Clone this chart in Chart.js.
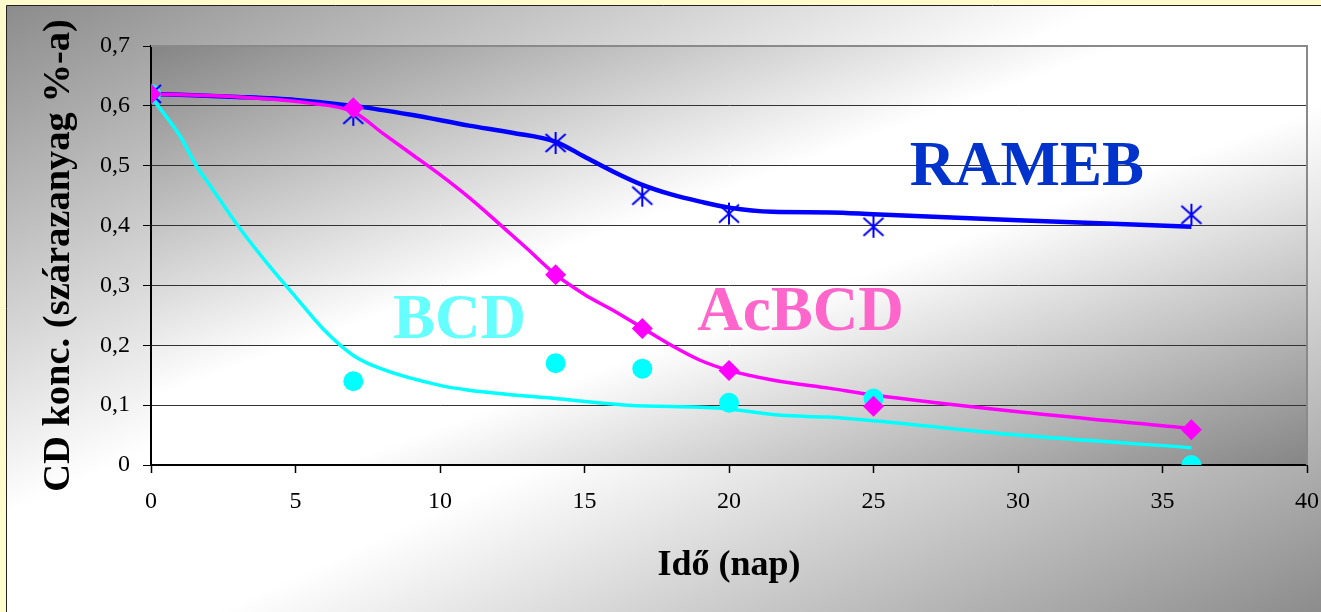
<!DOCTYPE html>
<html>
<head>
<meta charset="utf-8">
<script src="https://cdn.jsdelivr.net/npm/chart.js@4"></script>
<style>
  html, body { margin: 0; padding: 0; background: #fffbcc; }
  canvas { display: block; }
</style>
</head>
<body>
<canvas id="cdChart" width="1321" height="612"></canvas>
<script>
// measured days and values
const days = [0, 7, 14, 17, 20, 25, 36];
const ramebPoints = [0.62, 0.585, 0.538, 0.45, 0.42, 0.398, 0.418];
const acbcdPoints = [0.62, 0.597, 0.318, 0.228, 0.158, 0.098, 0.059];
const bcdPoints = [0.62, 0.14, 0.17, 0.161, 0.104, 0.111, 0.0];

// trend curves
const ramebTrendX = [0, 3, 5, 7, 9, 11, 12.5, 14, 15, 16, 17, 18, 19, 20, 21.5, 23.5, 25, 30, 36];
const ramebTrendY = [0.62, 0.615, 0.61, 0.60, 0.585, 0.567, 0.555, 0.54, 0.515, 0.49, 0.468, 0.452, 0.44, 0.43, 0.423, 0.422, 0.419, 0.409, 0.398];
const acbcdTrendX = [0, 3, 5.4, 7, 8, 9, 10, 11, 12, 13, 14, 15, 16, 17, 18, 19, 20, 21.5, 23.5, 25, 30, 36];
const acbcdTrendY = [0.62, 0.615, 0.605, 0.59, 0.555, 0.52, 0.485, 0.447, 0.405, 0.362, 0.318, 0.285, 0.258, 0.229, 0.2, 0.175, 0.158, 0.142, 0.128, 0.117, 0.089, 0.061];
const bcdTrendX = [0, 1, 1.6, 2, 3, 4, 5, 6, 7, 8, 10, 11, 14, 16.5, 19.7, 21.8, 23.4, 25, 30, 36];
const bcdTrendY = [0.615, 0.55, 0.497, 0.47, 0.40, 0.338, 0.281, 0.225, 0.183, 0.16, 0.133, 0.125, 0.111, 0.1, 0.095, 0.083, 0.08, 0.074, 0.05, 0.029];

const xTicks = [0, 5, 10, 15, 20, 25, 30, 35, 40];
const yTicks = [0, 0.1, 0.2, 0.3, 0.4, 0.5, 0.6, 0.7];

const toXY = (xs, ys) => xs.map((x, i) => ({ x: x, y: ys[i] }));

// six-armed asterisk marker like the Excel one
function asterisk(color) {
    const c = document.createElement("canvas");
    c.width = 26; c.height = 26;
    const g = c.getContext("2d");
    const m = 13;
    g.strokeStyle = color;
    g.lineWidth = 2;
    g.beginPath();
    g.moveTo(m, m - 11); g.lineTo(m, m + 11);
    g.moveTo(m - 10, m - 9); g.lineTo(m + 10, m + 9);
    g.moveTo(m + 10, m - 9); g.lineTo(m - 10, m + 9);
    g.stroke();
    return c;
}

function diagGradient(ctx, x, y, w, h, edge) {
    const k = 2 * w * h / (w * w + h * h);
    const grad = ctx.createLinearGradient(x, y, x + h * k, y + w * k);
    grad.addColorStop(0, edge);
    grad.addColorStop(0.42, "#ffffff");
    grad.addColorStop(0.58, "#ffffff");
    grad.addColorStop(1, edge);
    return grad;
}

const backdrop = {
    id: "backdrop",
    beforeDraw(chart) {
        const ctx = chart.ctx;
        const W = chart.width, H = chart.height;
        ctx.save();
        ctx.fillStyle = "#fffbcc";
        ctx.fillRect(0, 0, W, H);
        ctx.fillStyle = diagGradient(ctx, 7, 6, W - 7, H - 6, "#8c8c8c");
        ctx.fillRect(7, 6, W - 7, H - 6);
        ctx.strokeStyle = "#222";
        ctx.lineWidth = 1;
        ctx.beginPath();
        ctx.moveTo(6.5, H); ctx.lineTo(6.5, 5.5); ctx.lineTo(W, 5.5);
        ctx.stroke();
        const a = chart.chartArea;
        ctx.fillStyle = diagGradient(ctx, a.left, a.top, a.right - a.left, a.bottom - a.top, "#858585");
        ctx.fillRect(a.left, a.top, a.right - a.left, a.bottom - a.top);
        ctx.restore();
    },
    beforeDatasetsDraw(chart) {
        const ctx = chart.ctx;
        const a = chart.chartArea;
        ctx.save();
        ctx.strokeStyle = "#8a8a8a";
        ctx.lineWidth = 2;
        ctx.beginPath();
        ctx.moveTo(a.left, a.top); ctx.lineTo(a.right, a.top); ctx.lineTo(a.right, a.bottom);
        ctx.stroke();
        ctx.restore();
    },
    afterDatasetsDraw(chart) {
        const ctx = chart.ctx;
        const xs = chart.scales.x, ys = chart.scales.y;
        ctx.save();
        ctx.font = "bold 63px 'Liberation Serif', 'Times New Roman', serif";
        ctx.textBaseline = "alphabetic";
        ctx.textAlign = "left";
        ctx.fillStyle = "#0033cc";
        ctx.fillText("RAMEB", xs.getPixelForValue(26.25), ys.getPixelForValue(0.467));
        ctx.fillStyle = "#66ffff";
        ctx.fillText("BCD", xs.getPixelForValue(8.37), ys.getPixelForValue(0.212));
        ctx.fillStyle = "#ff66cc";
        ctx.fillText("AcBCD", xs.getPixelForValue(18.9), ys.getPixelForValue(0.225));
        ctx.restore();
    }
};

const serif = "'Liberation Serif', 'Times New Roman', serif";

new Chart(document.getElementById("cdChart"), {
    type: "scatter",
    data: {
        datasets: [
            {
                label: "AcBCD",
                data: toXY(days, acbcdPoints),
                pointStyle: "rectRot",
                pointRadius: 10.5,
                backgroundColor: "#ff00ff",
                borderColor: "#ff00ff",
                borderWidth: 0
            },
            {
                label: "RAMEB",
                data: toXY(days, ramebPoints),
                pointStyle: asterisk("#0000ff"),
                backgroundColor: "#0000ff",
                borderColor: "#0000ff"
            },
            {
                label: "BCD",
                data: toXY(days, bcdPoints),
                pointStyle: "circle",
                pointRadius: 10,
                backgroundColor: "#00ffff",
                borderColor: "#00ffff",
                borderWidth: 0
            },
            {
                label: "AcBCD trend",
                data: toXY(acbcdTrendX, acbcdTrendY),
                showLine: true,
                pointRadius: 0,
                borderColor: "#ff00ff",
                borderWidth: 3.5,
                cubicInterpolationMode: "monotone"
            },
            {
                label: "RAMEB trend",
                data: toXY(ramebTrendX, ramebTrendY),
                showLine: true,
                pointRadius: 0,
                borderColor: "#0000ff",
                borderWidth: 4.5,
                cubicInterpolationMode: "monotone"
            },
            {
                label: "BCD trend",
                data: toXY(bcdTrendX, bcdTrendY),
                showLine: true,
                pointRadius: 0,
                borderColor: "#00ffff",
                borderWidth: 3.5,
                cubicInterpolationMode: "monotone"
            }
        ]
    },
    options: {
        responsive: false,
        animation: false,
        devicePixelRatio: 1,
        layout: { padding: { left: 0, top: 46, right: 0, bottom: 0 } },
        plugins: {
            legend: { display: false },
            tooltip: { enabled: false }
        },
        elements: { point: { hoverRadius: 0 } },
        scales: {
            x: {
                type: "linear",
                min: 0,
                max: 40,
                afterFit: s => { s.height = 147; s.paddingRight = 14; s.paddingLeft = 0; },
                afterBuildTicks: s => { s.ticks = xTicks.map(v => ({ value: v })); },
                grid: { drawOnChartArea: false, drawTicks: true, tickLength: 8, tickColor: "#000", tickWidth: 1.5 },
                border: { display: true, color: "#000", width: 2 },
                ticks: {
                    padding: 14,
                    color: "#000",
                    font: { family: serif, size: 24 },
                    callback: v => String(v)
                },
                title: {
                    display: true,
                    text: "Idő (nap)",
                    color: "#000",
                    font: { family: serif, size: 36, weight: "bold" },
                    padding: { top: 0, bottom: 25 }
                }
            },
            y: {
                type: "linear",
                min: 0,
                max: 0.7,
                afterFit: s => { s.width = 151; },
                afterBuildTicks: s => { s.ticks = yTicks.map(v => ({ value: v })); },
                grid: {
                    color: ctx => (ctx.tick && ctx.tick.value >= 0.7 ? "#8a8a8a" : "#333"),
                    lineWidth: 1,
                    drawTicks: true,
                    tickLength: 8,
                    tickColor: "#000"
                },
                border: { display: true, color: "#000", width: 2 },
                ticks: {
                    padding: 13,
                    color: "#000",
                    font: { family: serif, size: 24 },
                    callback: v => String(Math.round(v * 10) / 10).replace(".", ",")
                },
                title: {
                    display: true,
                    text: "CD konc. (szárazanyag %-a)",
                    color: "#000",
                    font: { family: serif, size: 38.5, weight: "bold" },
                    padding: { top: 36, bottom: 0 }
                }
            }
        }
    },
    plugins: [backdrop]
});
</script>
</body>
</html>
